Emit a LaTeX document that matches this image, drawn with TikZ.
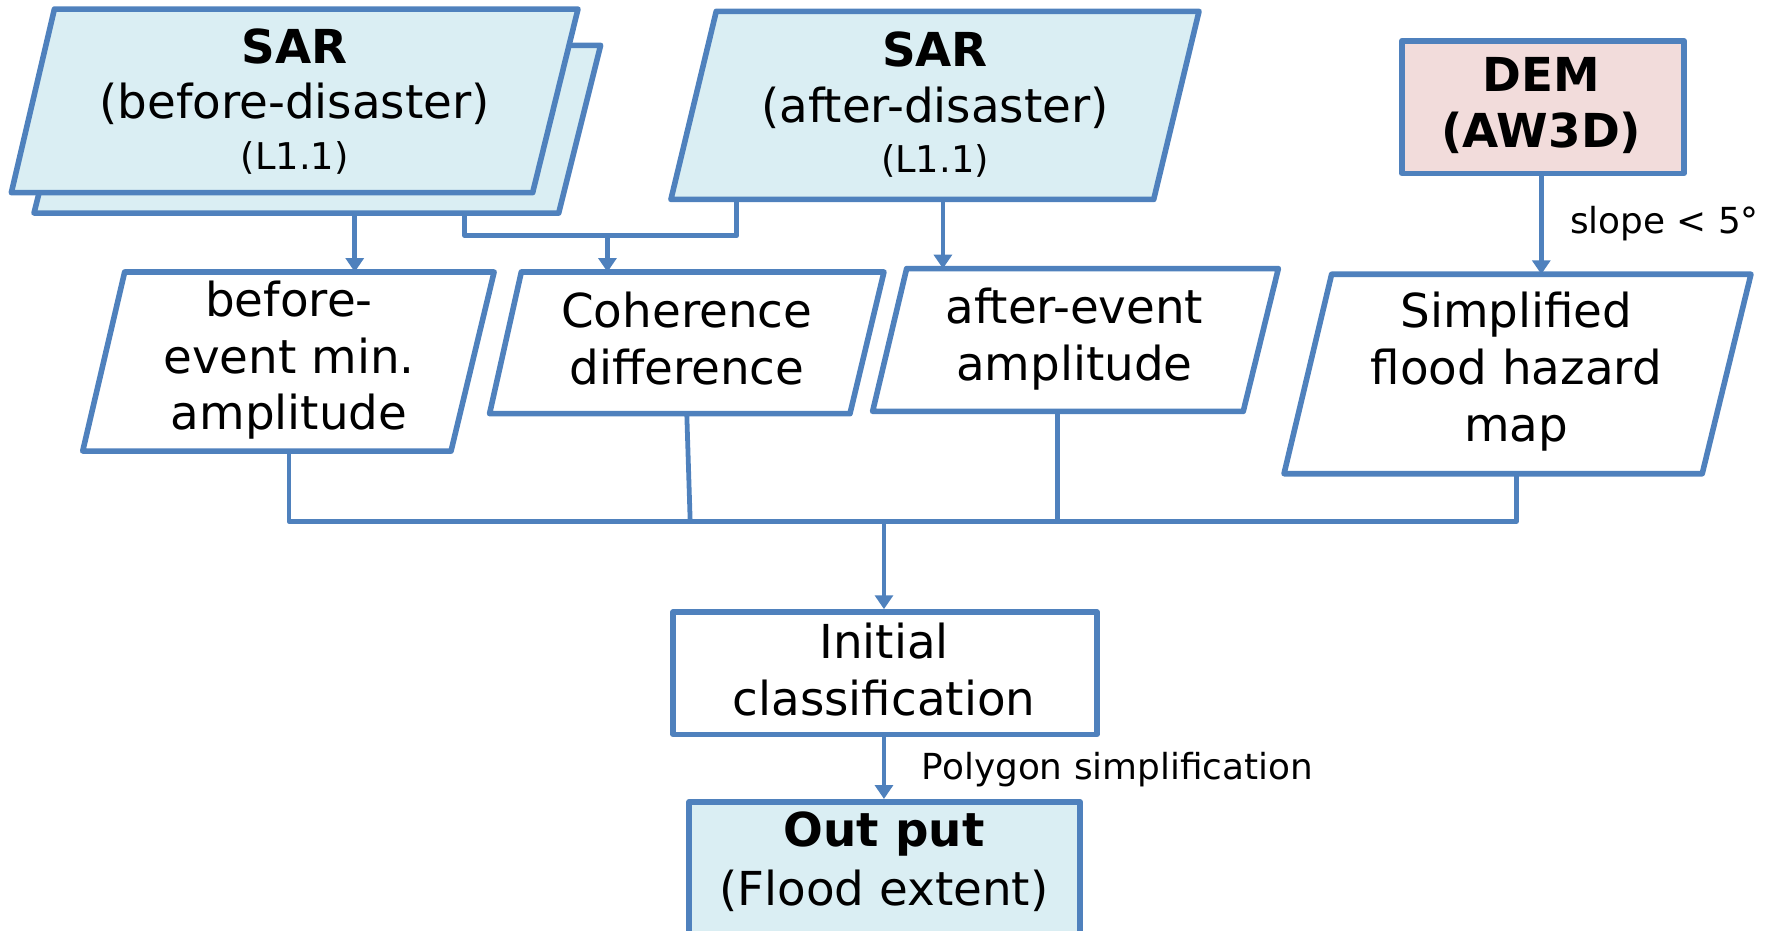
\documentclass[tikz,border=0pt]{standalone}
\usepackage{fontspec}
\setmainfont{DejaVu Sans}
\usetikzlibrary{arrows.meta}
\definecolor{lineblue}{HTML}{4F81BD}
\definecolor{fillblue}{HTML}{DAEEF3}
\definecolor{fillpink}{HTML}{F2DCDB}
\begin{document}
\begin{tikzpicture}[x=0.02cm,y=-0.02cm,
  shapeline/.style={draw=lineblue,line width=2.8pt,line join=round},
  conn/.style={draw=lineblue,line width=2.4pt},
  arr/.style={conn,-{Triangle[width=9pt,length=7pt]}},
  txt/.style={font=\fontsize{23.5}{28.45}\selectfont,align=center,inner sep=0pt},
  btxt/.style={font=\fontsize{23.5}{28.45}\selectfont\bfseries,align=center,inner sep=0pt},
  stxt/.style={font=\fontsize{18.5}{22}\selectfont,inner sep=0pt},
  ltxt/.style={font=\fontsize{18}{22}\selectfont,inner sep=0pt,anchor=west}
]
\useasboundingbox (0,0) rectangle (1568,821);
\clip (0,0) rectangle (1568,821);

% SAR before (stacked)
\filldraw[shapeline,fill=fillblue] (67,40) -- (530,40) -- (493,188) -- (30,188) -- cycle;
\filldraw[shapeline,fill=fillblue] (48,8) -- (510,8) -- (470,170) -- (10,170) -- cycle;
\node[btxt] (sarb1) at (260,41) {SAR};
\node[txt] (sarb2) at (260,92) {(before-disaster)};
\node[stxt] (sarb3) at (260,139) {(L1.1)};
\coordinate (sarbA) at (313,188);
\coordinate (sarbB) at (410,188);

% SAR after
\filldraw[shapeline,fill=fillblue] (632,10) -- (1058,10) -- (1018,176) -- (592,176) -- cycle;
\node[btxt] (sara1) at (825,44) {SAR};
\node[txt] (sara2) at (825,95) {(after-disaster)};
\node[stxt] (sara3) at (825,142) {(L1.1)};
\coordinate (saraA) at (650,176);
\coordinate (saraB) at (832,176);

% DEM
\node[shapeline,fill=fillpink,minimum width=249*0.02cm,minimum height=117*0.02cm,inner sep=0pt] (dem) at (1361.5,94.5) {};
\node[btxt] (dem1) at (1360,66) {DEM};
\node[btxt] (dem2) at (1360,117) {(AW3D)};

% second row
\draw[shapeline,fill=white] (110,240) -- (436,240) -- (398,398) -- (73,398) -- cycle;
\node[txt] (bev) at (255,318) {before-\\event min.\\amplitude};
\coordinate (bevT) at (313,240);
\coordinate (bevB) at (255,398);

\draw[shapeline,fill=white] (460,240) -- (780,240) -- (750,365) -- (432,365) -- cycle;
\node[txt] (coh) at (606,299) {Coherence\\difference};
\coordinate (cohT) at (536,240);
\coordinate (cohB) at (606,365);

\draw[shapeline,fill=white] (800,237) -- (1128,237) -- (1097,363) -- (770,363) -- cycle;
\node[txt] (aev) at (948,299) {after-event\\amplitude};
\coordinate (aevT) at (832,237);
\coordinate (aevB) at (933,363);

\draw[shapeline,fill=white] (1175,242) -- (1545,242) -- (1502,418) -- (1133,418) -- cycle;
\node[txt] (haz) at (1338,328) {Simplified\\flood hazard\\map};
\coordinate (hazT) at (1360,242);
\coordinate (hazB) at (1338,418);

% Initial classification
\node[shapeline,fill=white,minimum width=374*0.02cm,minimum height=108*0.02cm,inner sep=0pt] (init) at (781,594) {};
\node[txt] (init1) at (780,591) {Initial\\classification};

% Output
\node[shapeline,fill=fillblue,minimum width=345*0.02cm,minimum height=165*0.02cm,inner sep=0pt,anchor=north] (out) at (780.5,705) {};
\node[btxt] (out1) at (780,736) {Out put};
\node[txt] (out2) at (780,786) {(Flood extent)};

% connectors
\coordinate (j1) at (410,208);
\coordinate (j2) at (650,208);
\coordinate (j3) at (536,208);
\draw[arr] (sarbA) -- (bevT);
\draw[conn,line join=round] (sarbB) -- (j1) -- (j2) -- (saraA);
\draw[arr] (j3) -- (cohT);
\draw[arr] (saraB) -- (aevT);
\draw[arr] (dem.south -| hazT) -- (hazT);
\node[ltxt] (slope) at (1385,197) {slope < 5°};

\coordinate (m1) at (255,460);
\coordinate (m2) at (609,460);
\coordinate (m3) at (933,460);
\coordinate (m4) at (1338,460);
\coordinate (mc) at (780,460);
\draw[conn,line join=round] (bevB) -- (m1) -- (m4) -- (hazB);
\draw[conn] (cohB) -- (m2);
\draw[conn] (aevB) -- (m3);
\draw[arr] (mc) -- (init.north -| mc);
\draw[arr] (init.south -| mc) -- (out.north -| mc);
\node[ltxt] (poly) at (813,679) {Polygon simplification};
\end{tikzpicture}
\end{document}
